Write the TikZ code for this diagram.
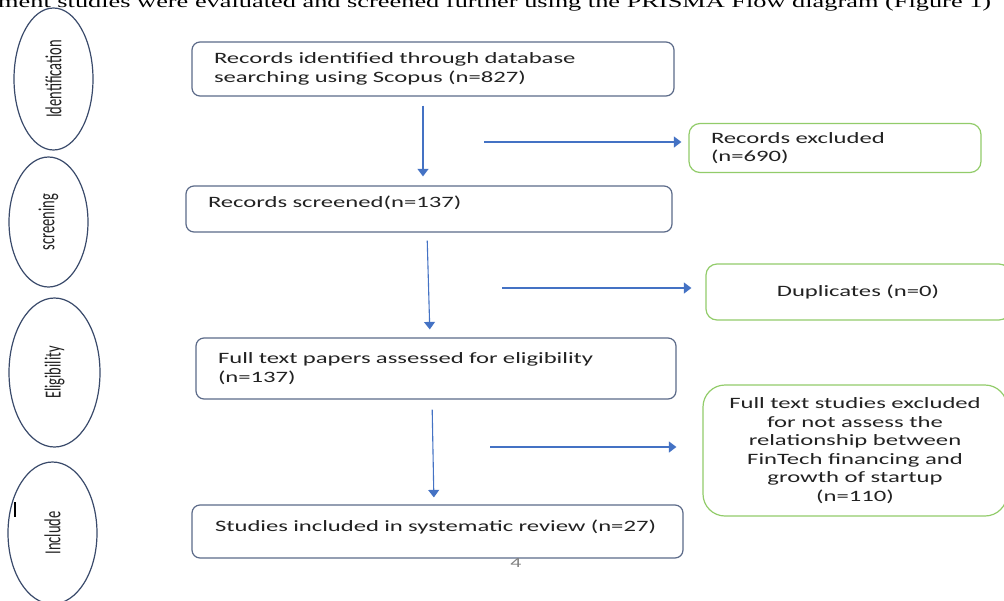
\documentclass[tikz,border=0pt]{standalone}
\usepackage{fontspec}
\usepackage{tikz}
\usetikzlibrary{arrows.meta,shapes.geometric}
\setmainfont{Liberation Serif}
\newfontfamily\boxfont{Carlito}[FakeStretch=1.56]
\newfontfamily\phasefont{Carlito}[FakeStretch=0.63]
\newfontfamily\pagefont{Liberation Serif}[FakeStretch=1.55]
\definecolor{phaseline}{HTML}{3A4A6B}
\definecolor{boxline}{HTML}{5C6B89}
\definecolor{flowblue}{HTML}{4472C4}
\definecolor{exgreen}{HTML}{92CC6A}
\definecolor{txt}{HTML}{222222}
\begin{document}
\begin{tikzpicture}[x=1pt,y=-1pt,>=Stealth,
  phase/.style={draw=phaseline,line width=1.2pt,ellipse,inner sep=0pt,text=txt,font=\phasefont\fontsize{23}{23}\selectfont},
  stepbox/.style={draw=boxline,line width=1.2pt,rounded corners=8pt,align=left,inner xsep=22pt,inner ysep=0pt,text=txt,font=\boxfont\fontsize{15.8}{18.5}\selectfont},
  exbox/.style={draw=exgreen,line width=1.2pt,rounded corners=11pt,inner ysep=0pt,text=txt,font=\boxfont\fontsize{15.8}{18.5}\selectfont},
  flow/.style={->,draw=flowblue,line width=1.1pt,-{Triangle[width=11pt,length=7.5pt]}}]
\useasboundingbox (0,0) rectangle (1004,600);
\clip (0,0) rectangle (1004,600);
\fill[white] (0,0) rectangle (1004,600);
% running text of the page
\node[anchor=base west,inner sep=0pt,font=\pagefont\fontsize{17}{17}\selectfont] (pagetxt) at (-2,7) {ment studies were evaluated and screened further using the PRISMA Flow diagram (Figure 1)};
% phases
\node[phase,minimum width=79pt,minimum height=142pt] (ph1) at (53.5,79) {\rotatebox{90}{Identification}};
\node[phase,minimum width=79pt,minimum height=130pt] (ph2) at (48.5,222) {\rotatebox{90}{screening}};
\node[phase,minimum width=91pt,minimum height=149pt] (ph3) at (54.5,372.5) {\rotatebox{90}{Eligibility}};
\node[phase,minimum width=89pt,minimum height=142pt] (ph4) at (52.5,533) {\rotatebox{90}{Include}};
\draw[line width=2pt] (15,502) coordinate (mk1) -- (15,517) coordinate (mk2);
% main steps
\node[stepbox,minimum width=482pt,minimum height=54pt,text width=438pt] (b1) at (433,69) {Records identified through database\\searching using Scopus (n=827)};
\node[stepbox,minimum width=486pt,minimum height=46pt,text width=442pt,text depth=14pt] (b2) at (429,209) {Records screened(n=137)};
\node[stepbox,minimum width=480pt,minimum height=61pt,text width=436pt] (b3) at (436,368.5) {Full text papers assessed for eligibility\\(n=137)};
\node[stepbox,minimum width=491pt,minimum height=53pt,text width=445pt,text depth=12pt] (b4) at (437.5,531.5) {Studies included in systematic review (n=27)};
% excluded
\node[exbox,align=left,inner xsep=22pt,minimum width=292pt,minimum height=49pt,text width=248pt] (g1) at (835,148) {Records excluded\\(n=690)};
\node[exbox,align=center,minimum width=304pt,minimum height=56pt] (g2) at (858,292) {Duplicates (n=0)};
\node[exbox,align=center,rounded corners=22pt,minimum width=304pt,minimum height=131pt] (g3) at (855,450.5) {Full text studies excluded\\for not assess the\\relationship between\\FinTech financing and\\growth of startup\\(n=110)};
\node[text=gray,inner sep=0pt,font=\boxfont\fontsize{14}{14}\selectfont] (pg) at (516,563) {4};
% arrows
\draw[flow,shorten <=9pt,shorten >=9pt] ([xshift=-10pt]b1.south) -- ([xshift=-6pt]b2.south |- b2.north);
\draw[flow,shorten <=8pt,shorten >=8pt] ([xshift=-2pt]b2.south) -- ([xshift=-6pt]b3.north);
\draw[flow,shorten <=10pt,shorten >=7pt] ([xshift=-4pt]b3.south) -- ([xshift=-3.5pt]b4.north);
\coordinate (e1) at (484,142);
\coordinate (e2) at (502,288);
\coordinate (e3) at (490,447);
\draw[flow,shorten >=7pt] (e1) -- (e1 -| g1.west);
\draw[flow,shorten >=14pt] (e2) -- (e2 -| g2.west);
\draw[flow,shorten >=26pt] (e3) -- (e3 -| g3.west);
\end{tikzpicture}
\end{document}
